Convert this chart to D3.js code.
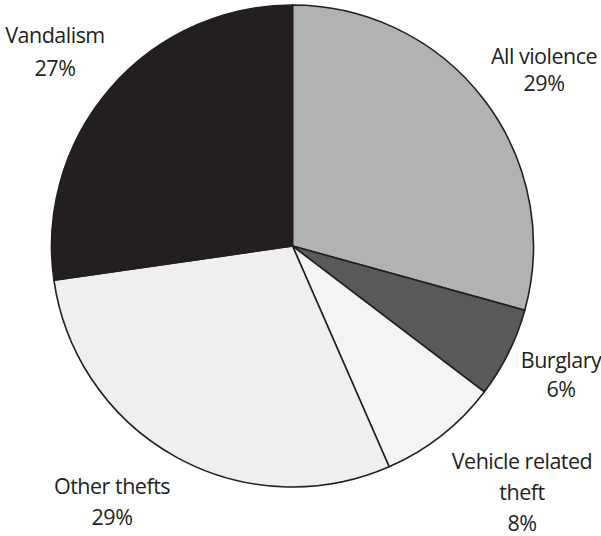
<!DOCTYPE html>
<html>
<head>
<meta charset="utf-8">
<script src="https://cdn.jsdelivr.net/npm/d3@7"></script>
<style>
  html, body { margin: 0; padding: 0; background: #ffffff; }
  svg { display: block; }
  .lbl { font-family: "Open Sans", sans-serif; font-size: 21.5px; letter-spacing: -0.5px; fill: #231f20; }
</style>
</head>
<body>
<script>
// Offence categories and their share of all incidents (percent)
const categories = ["All violence", "Burglary", "Vehicle related theft", "Other thefts", "Vandalism"];
const shares = [29, 6, 8, 29, 27];
const percentLabels = ["29%", "6%", "8%", "29%", "27%"];
const fills = ["#b1b2b4", "#58595b", "#f4f4f4", "#efefef", "#231f20"];

// Label text lines and anchor points for each category
const labelLines = [
  ["All violence", percentLabels[0]],
  ["Burglary", percentLabels[1]],
  ["Vehicle related", "theft", percentLabels[2]],
  ["Other thefts", percentLabels[3]],
  ["Vandalism", percentLabels[4]]
];
const labelPos = [
  { x: 544, y: 64, gap: 27 },
  { x: 561, y: 368, gap: 29 },
  { x: 522, y: 469, gap: 31 },
  { x: 112, y: 494, gap: 31 },
  { x: 55, y: 43, gap: 33 }
];

const width = 601, height = 536;
const cx = 292.5, cy = 246, radius = 241;

const svg = d3.select("body").append("svg")
  .attr("width", width)
  .attr("height", height);

const pie = d3.pie().sort(null).value(d => d);
const arc = d3.arc().innerRadius(0).outerRadius(radius);

const g = svg.append("g").attr("transform", `translate(${cx},${cy})`);

g.selectAll("path")
  .data(pie(shares))
  .join("path")
  .attr("d", arc)
  .attr("fill", (d, i) => fills[i])
  .attr("stroke", "#231f20")
  .attr("stroke-width", 1.6)
  .attr("stroke-linejoin", "round");

// Category labels with their percentages
const labels = svg.append("g");
categories.forEach((c, i) => {
  const p = labelPos[i];
  const t = labels.append("text")
    .attr("class", "lbl")
    .attr("text-anchor", "middle");
  labelLines[i].forEach((line, j) => {
    t.append("tspan")
      .attr("x", p.x)
      .attr("y", p.y + j * p.gap)
      .text(line);
  });
});
</script>
</body>
</html>
